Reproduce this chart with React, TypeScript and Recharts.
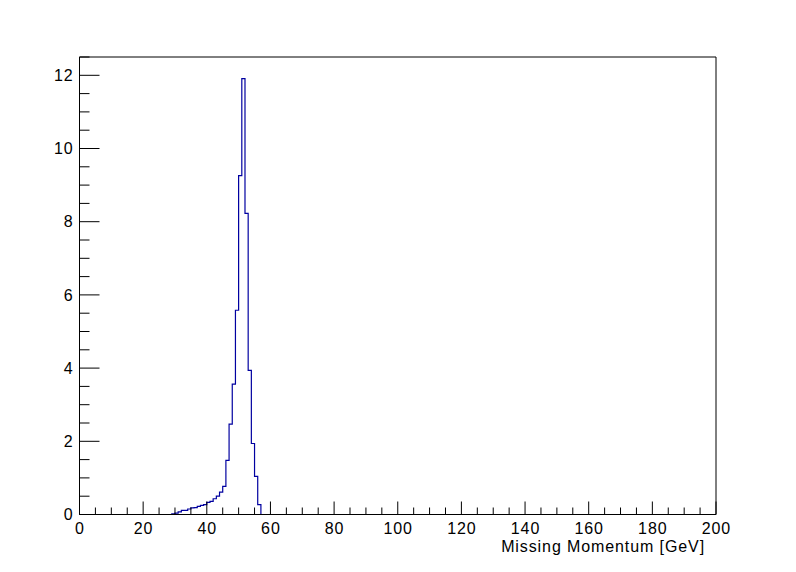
import React from 'react';
import { ComposedChart, Line, XAxis, YAxis, ReferenceArea } from 'recharts';

// Histogram bins (1 GeV wide), low edges and contents
const binLowEdges = [28, 29, 30, 31, 32, 33, 34, 35, 36, 37, 38, 39, 40, 41, 42, 43, 44, 45, 46, 47, 48, 49, 50, 51, 52, 53, 54, 55, 56, 57];
const binContents = [0, 0.02, 0.04, 0.07, 0.11, 0.11, 0.15, 0.18, 0.19, 0.22, 0.25, 0.27, 0.33, 0.36, 0.43, 0.5, 0.61, 0.77, 1.48, 2.47, 3.56, 5.58, 9.26, 11.91, 8.23, 3.94, 1.94, 1.04, 0.27, 0];

const xMajorTicks = [0, 20, 40, 60, 80, 100, 120, 140, 160, 180, 200];
const yMajorTicks = [0, 2, 4, 6, 8, 10, 12];
const xMinorStep = 5;
const yMinorStep = 0.5;
const xDomain = [0, 200];
const yDomain = [0, 12.5];
const xTitle = 'Missing Momentum [GeV]';

const data = binLowEdges.map((x, i) => ({ x, y: binContents[i] }));

const xTicks: number[] = [];
for (let v = xDomain[0]; v <= xDomain[1] + 1e-9; v += xMinorStep) xTicks.push(v);
const yTicks: number[] = [];
for (let v = yDomain[0]; v <= yDomain[1] + 1e-9; v += yMinorStep) yTicks.push(Math.round(v * 10) / 10);

const FONT = '"Liberation Sans", Arial, Helvetica, sans-serif';
const FS = 16;
const LS = 0.9;

const XTick = (props: any) => {
  const { x, y, payload } = props;
  const v = payload.value;
  const major = xMajorTicks.includes(v);
  const len = major ? 13 : 7;
  return (
    <g>
      <line x1={x} x2={x} y1={y} y2={y - len} stroke="#000" strokeWidth={1} />
      {major && (
        <text x={x + LS / 2} y={y + 19.5} textAnchor="middle" fontFamily={FONT} fontSize={FS} letterSpacing={LS} fill="#000">
          {v}
        </text>
      )}
    </g>
  );
};

const YTick = (props: any) => {
  const { x, y, payload } = props;
  const v = payload.value;
  const major = yMajorTicks.includes(v);
  const len = major ? 20 : 10;
  return (
    <g>
      <line x1={x} x2={x + len} y1={y} y2={y} stroke="#000" strokeWidth={1} />
      {major && (
        <text x={x - 6} y={y + 5.7} textAnchor="end" fontFamily={FONT} fontSize={FS} letterSpacing={LS} fill="#000">
          {v}
        </text>
      )}
    </g>
  );
};

const AxisTitle = (props: any) => {
  const vb = props.viewBox || {};
  return (
    <text x={vb.x + vb.width - 11} y={vb.y + 37.2} textAnchor="end" fontFamily={FONT} fontSize={FS} letterSpacing={LS} fill="#000">
      {xTitle}
    </text>
  );
};

export default function App() {
  return (
    <div style={{ position: 'absolute', left: 0, top: 0, width: 796, height: 572, background: '#fff' }}>
      <ComposedChart width={796} height={572} data={data} margin={{ top: 57, right: 80, bottom: 0, left: 0 }}>
        <XAxis
          type="number"
          dataKey="x"
          domain={xDomain}
          ticks={xTicks}
          interval={0}
          allowDataOverflow
          height={57.5}
          tickSize={0}
          tickMargin={0}
          tickLine={false}
          axisLine={{ stroke: '#000', strokeWidth: 1 }}
          tick={<XTick />}
          label={<AxisTitle />}
        />
        <YAxis
          type="number"
          domain={yDomain}
          ticks={yTicks}
          interval={0}
          allowDataOverflow
          width={79.5}
          tickSize={0}
          tickMargin={0}
          tickLine={false}
          axisLine={{ stroke: '#000', strokeWidth: 1 }}
          tick={<YTick />}
        />
        <ReferenceArea x1={xDomain[0]} x2={xDomain[1]} y1={yDomain[0]} y2={yDomain[1]} fill="none" fillOpacity={0} stroke="#000" strokeWidth={1} strokeOpacity={1} />
        <Line
          type="stepAfter"
          dataKey="y"
          stroke="#0000a0"
          strokeWidth={1.2}
          dot={false}
          activeDot={false}
          isAnimationActive={false}
        />
      </ComposedChart>
    </div>
  );
}
